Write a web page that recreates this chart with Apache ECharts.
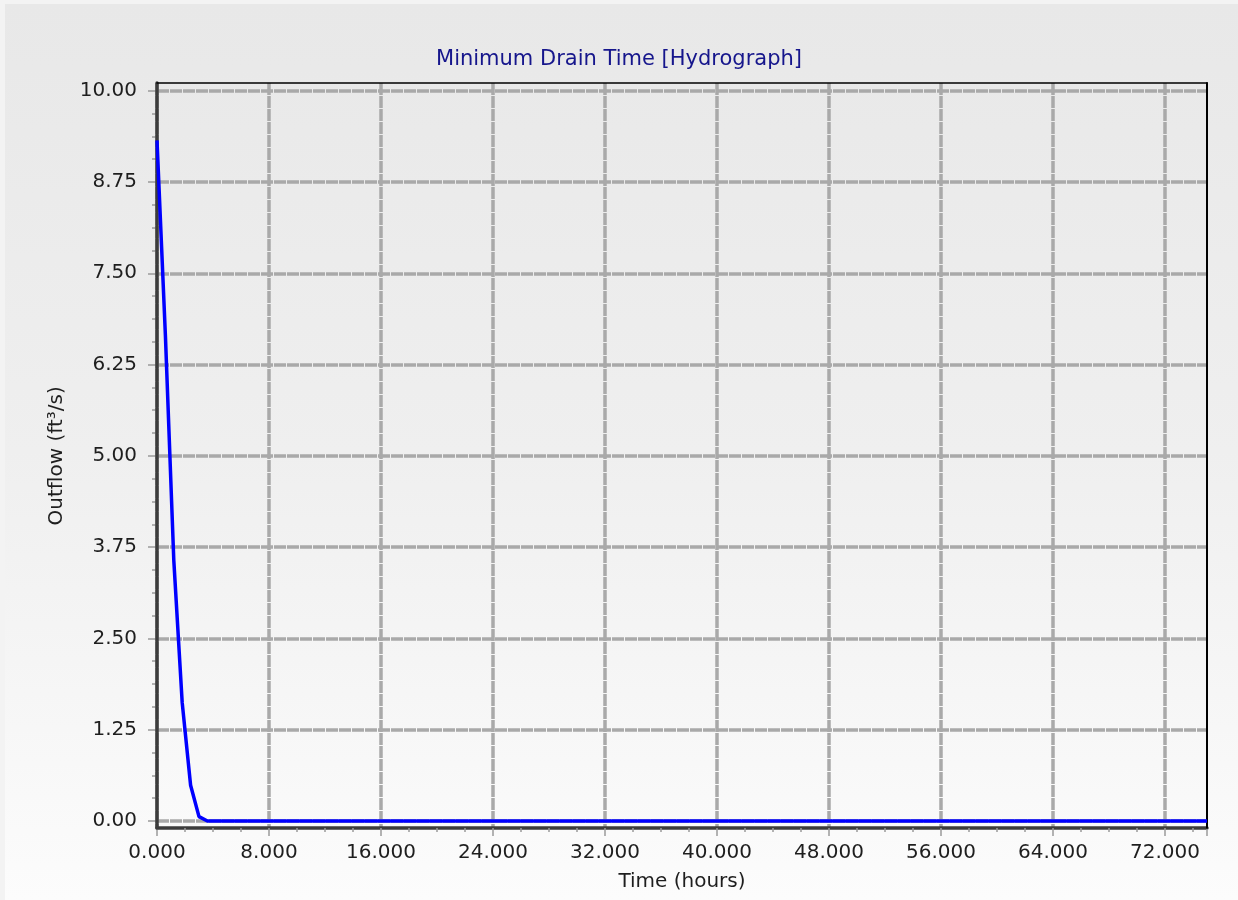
<!DOCTYPE html>
<html>
<head>
<meta charset="utf-8">
<title>Minimum Drain Time [Hydrograph]</title>
<script src="https://cdn.jsdelivr.net/npm/echarts@6/dist/echarts.min.js"></script>
<style>
  html, body { margin: 0; padding: 0; width: 1238px; height: 900px; overflow: hidden; }
  #panel {
    position: absolute; left: 0; top: 0; width: 1238px; height: 900px;
    box-sizing: border-box;
    border-left: 5px solid #f3f3f3; border-top: 4px solid #f3f3f3;
    background: linear-gradient(to bottom, #e8e8e8 0%, #efefef 50%, #fcfcfc 100%);
  }
  #chart { position: absolute; left: 0; top: 0; width: 1238px; height: 900px; }
</style>
</head>
<body>
<div id="panel"></div>
<div id="chart"></div>
<script>
// Outflow hydrograph of the basin draining from full
const timeHours  = [0, 0.6, 1.2, 1.8, 2.4, 3.0, 3.6, 75];
const outflowCfs = [9.32, 6.65, 3.57, 1.62, 0.49, 0.06, 0, 0];

// Axis ranges and tick spacing
const timeRange = [0, 75];
const timeStep = 8;
const flowRange = [0, 10];
const flowStep = 1.25;

const FONT = 'DejaVu Sans';
const points = timeHours.map((t, i) => [t, outflowCfs[i]]);

const chart = echarts.init(document.getElementById('chart'), null, { renderer: 'canvas' });

const gridLine = { show: true, lineStyle: { color: '#a9a9a9', width: 3.5, type: [12, 1] } };
const darkAxis = { color: '#3c3c3c', width: 3.5 };
const tickStyle = { color: '#9a9a9a', width: 1.5 };

chart.setOption({
  backgroundColor: 'transparent',
  animation: false,
  title: {
    text: 'Minimum Drain Time [Hydrograph]',
    left: 'center',
    top: 44,
    textStyle: { fontFamily: FONT, fontSize: 21, fontWeight: 'normal', color: '#16168c' }
  },
  grid: [
    // data area: 0..10 on the flow axis
    { left: 157, right: 31, top: 90.7, bottom: 79 },
    // frame around the plot
    { left: 157, right: 31, top: 83, bottom: 72 }
  ],
  xAxis: [
    { gridIndex: 0, type: 'value', min: timeRange[0], max: timeRange[1], show: false },
    {
      gridIndex: 1, type: 'value', min: timeRange[0], max: timeRange[1], interval: timeStep,
      name: 'Time (hours)', nameLocation: 'middle', nameGap: 44,
      nameTextStyle: { fontFamily: FONT, fontSize: 20, color: '#1e1e1e' },
      axisLine: { show: true, onZero: false, lineStyle: darkAxis },
      axisTick: { show: true, length: 8, lineStyle: tickStyle },
      minorTick: { show: true, splitNumber: 4, length: 4, lineStyle: tickStyle },
      axisLabel: {
        margin: 15, fontFamily: FONT, fontSize: 20, color: '#1e1e1e', showMaxLabel: false,
        formatter: v => v.toFixed(3)
      },
      splitLine: Object.assign({ showMaxLine: false }, gridLine),
      z: 1
    },
    // top edge of the frame
    {
      gridIndex: 1, type: 'value', position: 'top', min: 0, max: 1,
      axisLine: { show: true, onZero: false, lineStyle: { color: '#000', width: 1.5 } },
      axisTick: { show: false }, axisLabel: { show: false }, splitLine: { show: false },
      z: 3
    }
  ],
  yAxis: [
    {
      gridIndex: 0, type: 'value', min: flowRange[0], max: flowRange[1], interval: flowStep,
      name: 'Outflow (ft³/s)', nameLocation: 'middle', nameGap: 90, nameRotate: 90,
      nameTextStyle: { fontFamily: FONT, fontSize: 20, color: '#1e1e1e' },
      axisLine: { show: false },
      axisTick: { show: true, length: 9, lineStyle: tickStyle },
      minorTick: { show: true, splitNumber: 4, length: 5, lineStyle: tickStyle },
      axisLabel: {
        margin: 20, fontFamily: FONT, fontSize: 20, color: '#1e1e1e',
        formatter: v => v.toFixed(2)
      },
      splitLine: gridLine,
      z: 1
    },
    // left edge of the frame
    {
      gridIndex: 1, type: 'value', min: 0, max: 1,
      axisLine: { show: true, onZero: false, lineStyle: darkAxis },
      axisTick: { show: false }, axisLabel: { show: false }, splitLine: { show: false },
      z: 3
    },
    // right edge of the frame
    {
      gridIndex: 1, type: 'value', position: 'right', min: 0, max: 1,
      axisLine: { show: true, onZero: false, lineStyle: { color: '#000', width: 2 } },
      axisTick: { show: false }, axisLabel: { show: false }, splitLine: { show: false },
      z: 3
    }
  ],
  series: [{
    type: 'line',
    xAxisIndex: 0, yAxisIndex: 0,
    data: points,
    showSymbol: false,
    clip: false,
    lineStyle: { color: '#0000ff', width: 3.5 },
    z: 5
  }]
});
</script>
</body>
</html>
